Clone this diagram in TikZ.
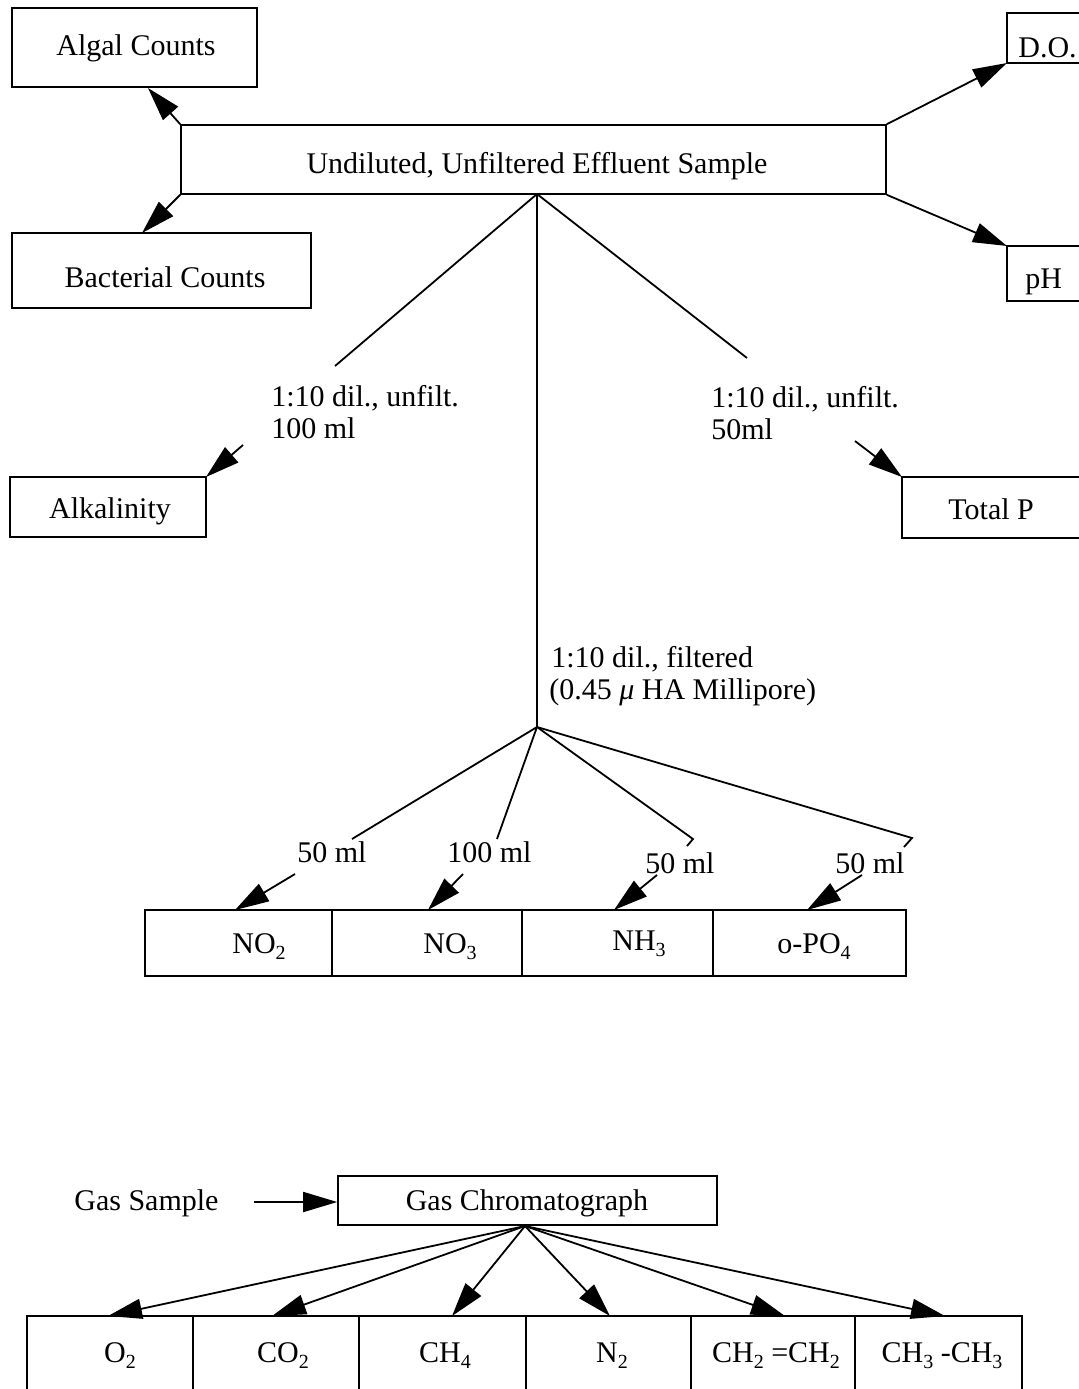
\documentclass[tikz,border=0pt]{standalone}
\usepackage{fontspec}
\setmainfont{Liberation Serif}
\usetikzlibrary{arrows.meta,fit}
\newcommand\lowsub[1]{\raisebox{-0.45ex}{\fontsize{10pt}{12pt}\selectfont #1}}
\begin{document}
\begin{tikzpicture}[x=0.5pt,y=-0.5pt,
  box/.style={draw, line width=0.8pt, inner sep=0pt, fit={#1}},
  txt/.style={inner sep=0pt, font=\fontsize{15pt}{18pt}\selectfont},
  ln/.style={line width=0.9pt},
  arr/.style={line width=0.9pt, -{Triangle[length=17pt,width=10pt]}}]
\useasboundingbox (0,0) rectangle (1078,1389);
\fill[white] (0,0) rectangle (1078,1389);

% ---------- upper boxes ----------
\node[box={(12,8) (257,87)}] (algal) {};
\node[box={(181,125) (886,194)}] (main) {};
\node[box={(12,233) (311,308)}] (bact) {};
\node[box={(1007,13) (1084,63)}] (do) {};
\node[box={(1007,246) (1084,301)}] (ph) {};
\node[box={(10,477) (206,537)}] (alk) {};
\node[box={(902,477) (1084,538)}] (totp) {};

\node[txt, anchor=base] (talgal) at (136,55) {Algal Counts};
\node[txt, anchor=base] (tmain) at (537,173) {Undiluted, Unfiltered Effluent Sample};
\node[txt, anchor=base] (tbact) at (165,287) {Bacterial Counts};
\node[txt, anchor=base west] (tdo) at (1018,57) {D.O.};
\node[txt, anchor=base west] (tph) at (1025,288) {pH};
\node[txt, anchor=base] (talk) at (110,518) {Alkalinity};
\node[txt, anchor=base west] (ttotp) at (948,519) {Total P};

% labels
\node[txt, anchor=base west] (l1a) at (271,406) {1:10 dil., unfilt.};
\node[txt, anchor=base west] (l1b) at (271,438) {100 ml};
\node[txt, anchor=base west] (l2a) at (711,407) {1:10 dil., unfilt.};
\node[txt, anchor=base west] (l2b) at (711,439) {50ml};
\node[txt, anchor=base west] (l3a) at (551,667) {1:10 dil., filtered};
\node[txt, anchor=base west] (l3b) at (549,699) {(0.45 \textit{μ} HA Millipore)};

% coordinates
\coordinate (tipalg) at (148,88);
\coordinate (tipbac) at (142,233);
\coordinate (tipdo) at (1007,63);
\coordinate (tipph) at (1007,246);
\coordinate (ftop) at (537,194);
\coordinate (fork) at (537,727);
\coordinate (endL) at (335,366);
\coordinate (endR) at (747,358);
\coordinate (alks) at (243,445);
\coordinate (tipalk) at (206,477);
\coordinate (tps) at (855,441);
\coordinate (tiptp) at (902,477);

\draw[arr] (main.north west) -- (tipalg);
\draw[arr] (main.south west) -- (tipbac);
\draw[arr] (main.north east) -- (tipdo);
\draw[arr] (main.south east) -- (tipph);
\draw[ln] (ftop) -- (endL);
\draw[ln] (ftop) -- (endR);
\draw[ln] (ftop) -- (fork);
\draw[arr] (alks) -- (tipalk);
\draw[arr] (tps) -- (tiptp);

% ---------- nutrient row ----------
\node[box={(145,910) (332,976)}] (no2) {};
\node[box={(332,910) (522,976)}] (no3) {};
\node[box={(522,910) (713,976)}] (nh3) {};
\node[box={(713,910) (906,976)}] (po4) {};
\node[txt, anchor=base west] (tno2) at (232,953) {NO\lowsub{2}};
\node[txt, anchor=base west] (tno3) at (423,953) {NO\lowsub{3}};
\node[txt, anchor=base west] (tnh3) at (612,950) {NH\lowsub{3}};
\node[txt, anchor=base west] (tpo4) at (777,953) {o-PO\lowsub{4}};

\node[txt, anchor=base west] (m1) at (297,862) {50 ml};
\node[txt, anchor=base west] (m2) at (447,862) {100 ml};
\node[txt, anchor=base west] (m3) at (645,873) {50 ml};
\node[txt, anchor=base west] (m4) at (835,873) {50 ml};

\coordinate (e1) at (352,839);
\coordinate (e2) at (497,839);
\coordinate (e3) at (693,839);
\coordinate (h3) at (687,846);
\coordinate (e4) at (912,838);
\coordinate (h4) at (904,847);
\draw[ln] (fork) -- (e1);
\draw[ln] (fork) -- (e2);
\draw[ln] (fork) -- (e3) -- (h3);
\draw[ln] (fork) -- (e4) -- (h4);

\coordinate (s1) at (295,874); \coordinate (t1) at (235,910);
\coordinate (s2) at (463,874); \coordinate (t2) at (428,910);
\coordinate (s3) at (657,875); \coordinate (t3) at (614,910);
\coordinate (s4) at (862,875); \coordinate (t4) at (807,910);
\draw[arr] (s1) -- (t1);
\draw[arr] (s2) -- (t2);
\draw[arr] (s3) -- (t3);
\draw[arr] (s4) -- (t4);

% ---------- gas section ----------
\node[box={(338,1176) (717,1225)}] (gc) {};
\node[txt, anchor=base] (tgc) at (527,1210) {Gas Chromatograph};
\node[txt, anchor=base west] (gs) at (74,1210) {Gas Sample};
\coordinate (gss) at (254,1202);
\draw[arr] (gss) -- (gc.west |- gss);

\node[box={(27,1316) (193,1400)}] (o2) {};
\node[box={(193,1316) (359,1400)}] (co2) {};
\node[box={(359,1316) (526,1400)}] (ch4) {};
\node[box={(526,1316) (691,1400)}] (n2) {};
\node[box={(691,1316) (855,1400)}] (ethe) {};
\node[box={(855,1316) (1022,1400)}] (etha) {};
\node[txt, anchor=base] (to2) at (120,1362) {O\lowsub{2}};
\node[txt, anchor=base] (tco2) at (283,1362) {CO\lowsub{2}};
\node[txt, anchor=base] (tch4) at (445,1362) {CH\lowsub{4}};
\node[txt, anchor=base] (tn2) at (612,1362) {N\lowsub{2}};
\node[txt, anchor=base] (tethe) at (776,1362) {CH\lowsub{2} =CH\lowsub{2}};
\node[txt, anchor=base] (tetha) at (942,1362) {CH\lowsub{3} -CH\lowsub{3}};

\coordinate (gsrc) at (525,1226);
\coordinate (g1) at (108,1316);
\coordinate (g2) at (272,1316);
\coordinate (g3) at (452,1316);
\coordinate (g4) at (610,1316);
\coordinate (g5) at (785,1316);
\coordinate (g6) at (945,1316);
\foreach \g in {g1,g2,g3,g4,g5,g6} \draw[arr] (gsrc) -- (\g);
\end{tikzpicture}
\end{document}
